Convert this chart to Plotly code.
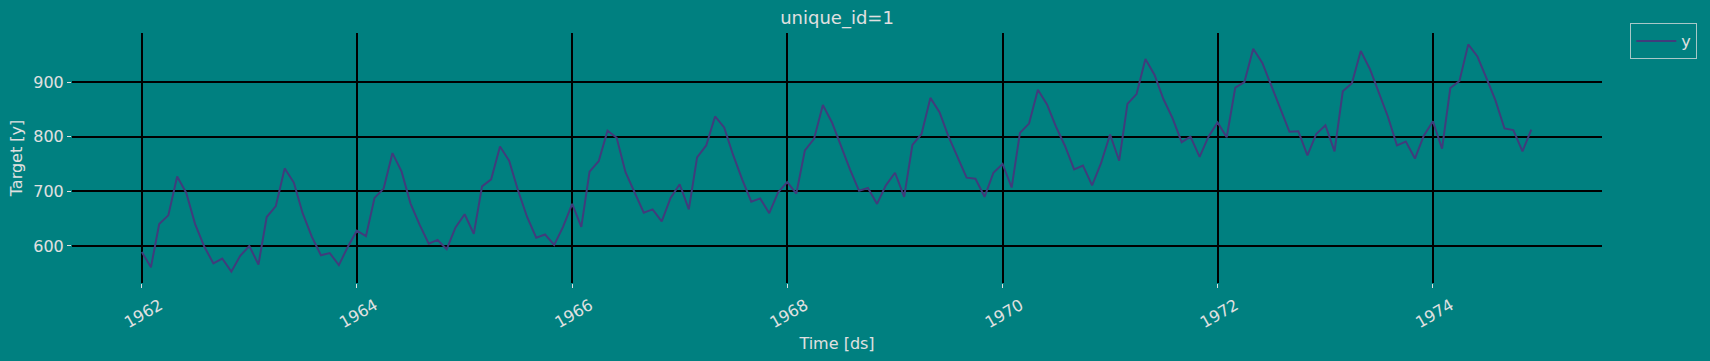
import pandas as pd
import plotly.graph_objects as go

start_month = "1962-01-01"
n_months = 156
values = [
    589, 561, 640, 656, 727, 697, 640, 599, 568, 577, 553, 582,
    600, 566, 653, 673, 742, 716, 660, 617, 583, 587, 565, 598,
    628, 618, 688, 705, 770, 736, 678, 639, 604, 611, 594, 634,
    658, 622, 709, 722, 782, 756, 702, 653, 615, 621, 602, 635,
    677, 635, 736, 755, 811, 798, 735, 697, 661, 667, 645, 688,
    713, 667, 762, 784, 837, 817, 767, 722, 681, 687, 660, 698,
    717, 696, 775, 796, 858, 826, 783, 740, 701, 706, 677, 711,
    734, 690, 785, 805, 871, 845, 801, 764, 725, 723, 690, 734,
    750, 707, 807, 824, 886, 859, 819, 783, 740, 747, 711, 751,
    804, 756, 860, 878, 942, 913, 869, 834, 790, 800, 763, 800,
    826, 799, 890, 900, 961, 935, 894, 855, 809, 810, 766, 805,
    821, 773, 883, 898, 957, 924, 881, 837, 784, 791, 760, 802,
    828, 778, 889, 902, 969, 947, 908, 867, 815, 812, 773, 813,
]
dates = pd.date_range(start_month, periods=n_months, freq="MS")
x_tick_years = [1962, 1964, 1966, 1968, 1970, 1972, 1974]
y_tick_vals = [600, 700, 800, 900]

BG = "#008080"
TXT = "#e0e0e0"
LINE = "#403c7c"

fig = go.Figure()
fig.add_trace(go.Scatter(x=dates, y=values, mode="lines", name="y",
                         line=dict(color=LINE, width=2)))

fig.update_layout(
    width=1710, height=361,
    paper_bgcolor=BG, plot_bgcolor=BG,
    margin=dict(l=72, r=108, t=33, b=75),
    font=dict(family="DejaVu Sans", color=TXT, size=16),
    title=dict(text="unique_id=1", x=0.4895, xanchor="center", y=0.95, yanchor="middle",
               font=dict(size=18, color=TXT)),
    showlegend=True,
    legend=dict(x=1.0185, y=1.04, xanchor="left", yanchor="top",
                bgcolor=BG, bordercolor="#a8c8c8", borderwidth=1,
                itemwidth=40, font=dict(size=16, color=TXT)),
)
fig.update_xaxes(
    type="date",
    range=["1961-05-09", "1975-07-29"],
    tickvals=[pd.Timestamp(f"{y}-01-01") for y in x_tick_years],
    ticktext=[str(y) for y in x_tick_years],
    tickangle=-30,
    ticklabelshift=18,
    ticklabelstandoff=2,
    showgrid=True, gridcolor="black", gridwidth=1.5,
    zeroline=False, showline=False,
    ticks="outside", ticklen=4, tickcolor=TXT,
    tickfont=dict(size=16, color=TXT),
    title=dict(text="Time [ds]", font=dict(size=16, color=TXT), standoff=6),
)
fig.update_yaxes(
    range=[532.2, 989.8],
    tickvals=y_tick_vals,
    showgrid=True, gridcolor="black", gridwidth=1.5,
    zeroline=False, showline=False,
    ticks="outside", ticklen=4, tickcolor=TXT,
    tickfont=dict(size=16, color=TXT),
    title=dict(text="Target [y]", font=dict(size=16, color=TXT), standoff=6),
)

fig.write_html("out.html")
